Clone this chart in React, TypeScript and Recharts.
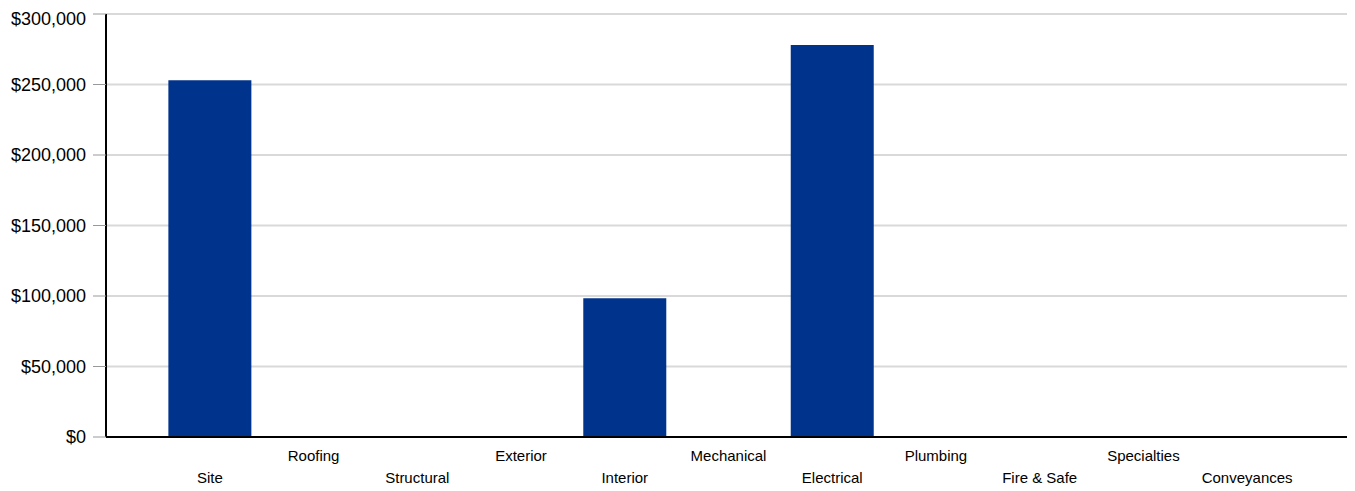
import React from "react";
import { BarChart, Bar, XAxis, YAxis, CartesianGrid } from "recharts";

const categories = [
  "Site",
  "Roofing",
  "Structural",
  "Exterior",
  "Interior",
  "Mechanical",
  "Electrical",
  "Plumbing",
  "Fire & Safe",
  "Specialties",
  "Conveyances",
];
const costs = [253000, 0, 0, 0, 98400, 0, 278000, 0, 0, 0, 0];
const yTicks = [0, 50000, 100000, 150000, 200000, 250000, 300000];

const data = categories.map((name, i) => ({ name, cost: costs[i] }));

const FONT = "'Liberation Sans', Arial, sans-serif";

const StaggerTick = (props: any) => {
  const { x, y, payload, index } = props;
  const upper = index % 2 === 1;
  return (
    <text
      x={x}
      y={y + (upper ? 16 : 38)}
      textAnchor="middle"
      fontFamily={FONT}
      fontSize={15}
      fill="#000"
    >
      {payload.value}
    </text>
  );
};

const money = (v: number) => "$" + v.toLocaleString("en-US");

export default function App() {
  return (
    <BarChart
      width={1345}
      height={483}
      data={data}
      margin={{ top: 6, right: 3, left: 0, bottom: 0 }}
      barCategoryGap="10%"
    >
      <CartesianGrid vertical={false} stroke="#d9d9d9" strokeWidth={2} />
      <XAxis
        dataKey="name"
        interval={0}
        height={54}
        padding={{ left: 52, right: 51 }}
        tickLine={false}
        axisLine={{ stroke: "#000", strokeWidth: 2 }}
        tick={<StaggerTick />}
      />
      <YAxis
        width={98}
        domain={[0, 300000]}
        ticks={yTicks}
        tickFormatter={money}
        tickSize={13}
        tickMargin={7}
        tickLine={{ stroke: "#999" }}
        axisLine={{ stroke: "#000", strokeWidth: 2 }}
        tick={{ fontFamily: FONT, fontSize: 18, fill: "#000" }}
      />
      <Bar dataKey="cost" fill="#00338b" isAnimationActive={false} />
    </BarChart>
  );
}
